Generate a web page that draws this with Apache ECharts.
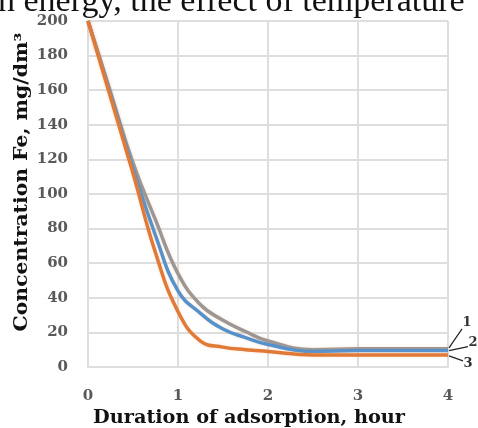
<!DOCTYPE html>
<html>
<head>
<meta charset="utf-8">
<script src="https://cdn.jsdelivr.net/npm/echarts@6/dist/echarts.min.js"></script>
<style>
  html, body { margin: 0; padding: 0; background: #fff; }
  #chart { width: 478px; height: 428px; }
</style>
</head>
<body>
<div id="chart"></div>
<script>
// Adsorption time, hours
const hours = [0, 0.25, 0.5, 0.75, 1, 1.25, 1.5, 1.75, 2, 2.5, 3, 3.5, 4];
// Residual Fe concentration, mg/dm3, for the three runs
const run1 = [200, 159, 118, 85, 54, 36, 27, 20.5, 15, 10, 10.5, 10.5, 10.5];
const run2 = [200, 158, 115, 76, 44, 31, 22, 17, 13, 9, 9.5, 9.5, 9.5];
const run3 = [200, 156, 112, 66, 32, 15, 11.5, 10, 9, 7, 7, 7, 7];
const runNames = ['1', '2', '3'];
const runColors = ['#9c9794', '#5592cc', '#e07a36'];
const xTicks = [0, 1, 2, 3, 4];
const yTicks = [0, 20, 40, 60, 80, 100, 120, 140, 160, 180, 200];

const pairs = (ys) => hours.map((h, i) => [h, ys[i]]);
const runs = [run1, run2, run3];

const tickFont = { fontFamily: 'DejaVu Serif', fontWeight: 'bold', fontSize: 15, color: '#595959' };
const gridLine = { color: '#dedede', width: 2 };

const chart = echarts.init(document.getElementById('chart'), null, { renderer: 'canvas' });

chart.setOption({
  animation: false,
  backgroundColor: '#ffffff',
  grid: { left: 88, right: 30, top: 21, bottom: 61, containLabel: false },
  xAxis: {
    type: 'value',
    min: xTicks[0],
    max: xTicks[xTicks.length - 1],
    interval: 1,
    axisLine: { show: true, lineStyle: gridLine },
    axisTick: { show: false },
    splitLine: { show: true, lineStyle: gridLine },
    axisLabel: Object.assign({ margin: 22 }, tickFont)
  },
  yAxis: {
    type: 'value',
    min: yTicks[0],
    max: yTicks[yTicks.length - 1],
    interval: 20,
    axisLine: { show: true, lineStyle: gridLine },
    axisTick: { show: false },
    splitLine: { show: true, lineStyle: gridLine },
    axisLabel: Object.assign({ margin: 20 }, tickFont)
  },
  series: runs.map((ys, i) => ({
    name: runNames[i],
    type: 'line',
    data: pairs(ys),
    smooth: 0.45,
    showSymbol: false,
    lineStyle: { color: runColors[i], width: 3.5, shadowColor: 'rgba(240,170,120,0.3)', shadowBlur: 3 },
    z: 2 + i
  }))
});

// Curve numbers with leader lines next to the curve ends
const ends = runs.map((ys, i) => chart.convertToPixel({ seriesIndex: i }, [hours[hours.length - 1], ys[ys.length - 1]]));
const tagOffsets = [[19, -26, 14, -20], [25, -8, 20, -4], [20, 9, 15, 6]];
const graphics = [];
ends.forEach((p, i) => {
  const o = tagOffsets[i];
  graphics.push({
    type: 'line', z: 10,
    shape: { x1: p[0] + 1, y1: p[1] - 1 + i, x2: p[0] + o[2], y2: p[1] + o[3] },
    style: { stroke: '#222', lineWidth: 1.2 }
  });
  graphics.push({
    type: 'text', z: 10,
    x: p[0] + o[0], y: p[1] + o[1],
    style: { text: runNames[i], font: 'bold 13px "DejaVu Serif"', fill: '#333', align: 'center', verticalAlign: 'middle' }
  });
});

// Axis titles
graphics.push({
  type: 'text', z: 10,
  x: 249, y: 418,
  style: { text: 'Duration of adsorption, hour', font: 'bold 19.3px "DejaVu Serif"', fill: '#111', align: 'center', verticalAlign: 'middle' }
});
graphics.push({
  type: 'text', z: 10,
  x: 22, y: 182, rotation: Math.PI / 2, scaleX: 1.13,
  style: { text: 'Concentration Fe, mg/dm³', font: 'bold 18px "DejaVu Serif"', fill: '#111', align: 'center', verticalAlign: 'middle' }
});
// Line of body text running above the figure
graphics.push({
  type: 'text', z: 10,
  x: -2, y: -15,
  style: { text: 'n energy, the effect of temperature', font: '34px "Liberation Serif"', fill: '#111', align: 'left', verticalAlign: 'top' }
});

chart.setOption({ graphic: graphics });
</script>
</body>
</html>
